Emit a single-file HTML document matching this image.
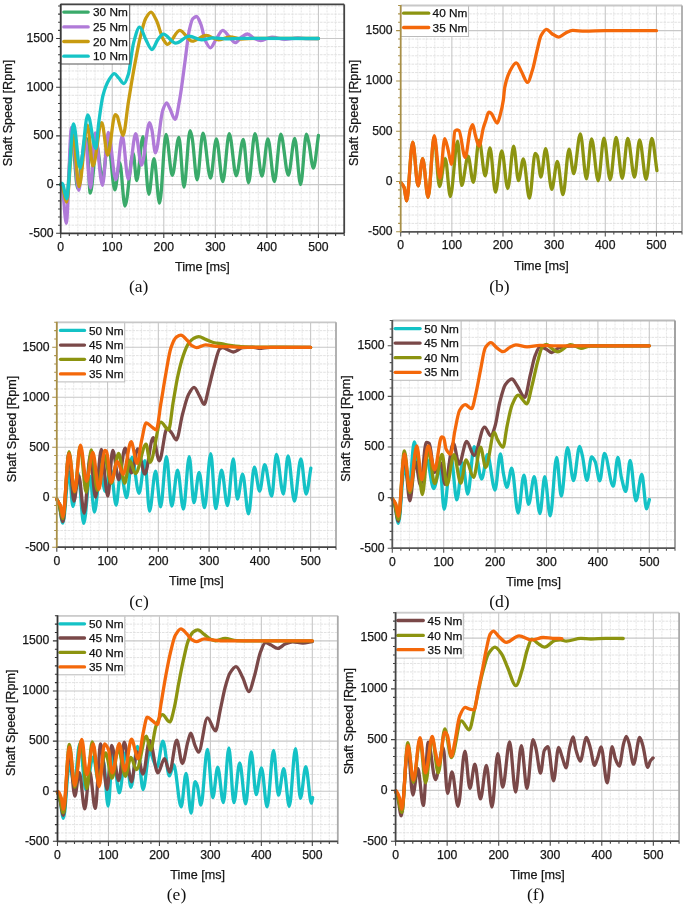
<!DOCTYPE html>
<html><head><meta charset="utf-8"><style>
html,body{margin:0;padding:0;background:#fff;overflow:hidden;width:685px;height:907px;}
svg{display:block;will-change:transform;filter:blur(0.35px);}
.tk{font-family:"Liberation Sans", sans-serif;font-size:12.2px;fill:#161616;stroke:#161616;stroke-width:0.25px;}
.at{font-family:"Liberation Sans", sans-serif;font-size:12.6px;fill:#161616;stroke:#161616;stroke-width:0.25px;}
.lg{font-family:"Liberation Sans", sans-serif;font-size:11.8px;fill:#111;stroke:#111;stroke-width:0.25px;}
.cap{font-family:"Liberation Serif", serif;font-size:17.5px;fill:#111;}
</style></head><body>
<svg width="685" height="907" viewBox="0 0 685 907">
<g id="pa">
<path d="M69.29 4.40V233.30M77.88 4.40V233.30M86.47 4.40V233.30M95.06 4.40V233.30M103.65 4.40V233.30M120.84 4.40V233.30M129.43 4.40V233.30M138.02 4.40V233.30M146.61 4.40V233.30M155.20 4.40V233.30M172.38 4.40V233.30M180.97 4.40V233.30M189.56 4.40V233.30M198.15 4.40V233.30M206.75 4.40V233.30M223.93 4.40V233.30M232.52 4.40V233.30M241.11 4.40V233.30M249.70 4.40V233.30M258.29 4.40V233.30M275.47 4.40V233.30M284.06 4.40V233.30M292.65 4.40V233.30M301.25 4.40V233.30M309.84 4.40V233.30M327.02 4.40V233.30M335.61 4.40V233.30" stroke="#e3e3e3" stroke-width="0.9" stroke-dasharray="2 1" fill="none"/>
<path d="M60.70 225.18H344.20M60.70 217.07H344.20M60.70 208.95H344.20M60.70 200.83H344.20M60.70 192.71H344.20M60.70 176.48H344.20M60.70 168.36H344.20M60.70 160.25H344.20M60.70 152.13H344.20M60.70 144.01H344.20M60.70 127.78H344.20M60.70 119.66H344.20M60.70 111.54H344.20M60.70 103.43H344.20M60.70 95.31H344.20M60.70 79.08H344.20M60.70 70.96H344.20M60.70 62.84H344.20M60.70 54.73H344.20M60.70 46.61H344.20M60.70 30.37H344.20M60.70 22.26H344.20M60.70 14.14H344.20M60.70 6.02H344.20" stroke="#dadada" stroke-width="0.8" stroke-dasharray="2.6 1" fill="none"/>
<path d="M112.25 4.40V233.30M163.79 4.40V233.30M215.34 4.40V233.30M266.88 4.40V233.30M318.43 4.40V233.30M60.70 184.60H344.20M60.70 135.90H344.20M60.70 87.19H344.20M60.70 38.49H344.20" stroke="#c8c8c8" stroke-width="1.1" fill="none"/>
<path d="M60.70 184.60C61.22 184.92 61.73 185.07 62.25 185.57C63.62 186.91 65.00 201.16 66.37 201.16C68.26 201.16 70.15 137.84 72.04 137.84C73.93 137.84 75.82 188.49 77.71 188.49C79.26 188.49 80.80 163.08 82.35 155.38C83.81 148.10 85.27 138.53 86.73 138.53C87.90 138.53 89.07 193.17 90.24 193.17C92.42 193.17 94.60 145.64 96.78 145.64C98.67 145.64 100.56 179.73 102.45 179.73C104.34 179.73 106.23 140.77 108.12 140.77C110.36 140.77 112.59 189.96 114.82 189.96C116.45 189.96 118.09 162.68 119.72 162.68C121.47 162.68 123.22 206.12 124.98 206.12C127.71 206.12 130.44 153.43 133.17 153.43C134.34 153.43 135.51 180.51 136.68 180.51C138.79 180.51 140.90 136.67 143.02 136.67C144.96 136.67 146.90 194.34 148.84 194.34C150.56 194.34 152.28 158.59 154.00 158.59C155.85 158.59 157.71 203.20 159.56 203.20C161.71 203.20 163.86 134.43 166.01 134.43C168.10 134.43 170.20 175.34 172.30 175.34C174.50 175.34 176.69 137.36 178.89 137.36C180.59 137.36 182.30 187.13 184.00 187.13C186.02 187.13 188.05 130.54 190.08 130.54C190.77 130.54 191.45 134.59 192.14 137.84C193.79 145.65 195.44 179.83 197.09 179.83C199.05 179.83 201.01 133.07 202.97 133.07C205.49 133.07 208.02 178.07 210.54 178.07C212.48 178.07 214.43 138.92 216.37 138.92C218.52 138.92 220.66 181.58 222.81 181.58C224.96 181.58 227.11 133.66 229.25 133.66C231.59 133.66 233.93 175.73 236.26 175.73C238.60 175.73 240.94 139.50 243.27 139.50C245.03 139.50 246.78 182.75 248.53 182.75C250.68 182.75 252.83 133.66 254.97 133.66C257.31 133.66 259.65 176.03 261.99 176.03C263.96 176.03 265.94 138.82 267.91 138.82C270.06 138.82 272.21 181.58 274.36 181.58C276.50 181.58 278.65 134.24 280.80 134.24C283.31 134.24 285.82 175.15 288.32 175.15C290.46 175.15 292.59 138.33 294.72 138.33C296.68 138.33 298.63 184.50 300.59 184.50C302.53 184.50 304.48 134.24 306.42 134.24C307.16 134.24 307.89 138.73 308.63 141.74C310.23 148.25 311.83 168.14 313.43 168.14C315.09 168.14 316.76 146.32 318.43 135.41" stroke="#3aaa6a" stroke-width="3.3" fill="none" stroke-linejoin="round" stroke-linecap="round"/>
<path d="M60.70 184.60C61.22 185.57 61.73 186.05 62.25 187.52C63.59 191.33 64.93 223.27 66.27 223.27C68.02 223.27 69.77 127.32 71.52 127.32C73.93 127.32 76.34 190.44 78.74 190.44C80.80 190.44 82.86 137.84 84.93 137.84C86.82 137.84 88.71 188.01 90.60 188.01C92.09 188.01 93.59 132.97 95.08 132.97C97.54 132.97 99.99 185.28 102.45 185.28C104.39 185.28 106.33 132.29 108.28 132.29C110.80 132.29 113.33 179.73 115.85 179.73C118.00 179.73 120.15 135.90 122.30 135.90C124.27 135.90 126.25 179.05 128.22 179.05C130.72 179.05 133.21 133.75 135.70 133.75C137.64 133.75 139.58 165.12 141.52 165.12C144.20 165.12 146.88 122.75 149.56 122.75C150.30 122.75 151.04 126.38 151.78 129.27C153.00 134.05 154.22 152.75 155.44 152.75C157.88 152.75 160.32 117.03 162.76 110.28C164.05 106.71 165.34 102.78 166.63 102.78C167.57 102.78 168.52 105.90 169.46 107.65C171.35 111.14 173.24 119.24 175.13 119.24C176.68 119.24 178.22 107.26 179.77 98.88C181.47 89.67 183.17 74.77 184.87 62.45C186.33 51.88 187.79 36.79 189.25 30.31C190.46 24.97 191.66 19.82 192.86 18.62C194.08 17.41 195.30 16.48 196.52 16.48C197.98 16.48 199.44 20.91 200.90 24.47C202.36 28.02 203.82 37.50 205.29 40.54C206.99 44.08 208.69 47.84 210.39 47.84C212.33 47.84 214.27 41.83 216.21 39.08C218.39 35.98 220.58 30.31 222.76 30.31C224.96 30.31 227.16 34.74 229.36 36.93C231.30 38.86 233.24 42.68 235.18 42.68C237.36 42.68 239.55 38.32 241.73 36.93C243.67 35.70 245.61 34.01 247.55 34.01C249.73 34.01 251.92 37.44 254.10 38.39C256.30 39.36 258.50 40.54 260.70 40.54C264.48 40.54 268.26 37.03 272.04 37.03C276.33 37.03 280.63 39.47 284.92 39.47C289.22 39.47 293.51 38.00 297.81 38.00C301.25 38.00 304.68 38.69 308.12 38.69C311.55 38.69 314.99 38.56 318.43 38.49" stroke="#b07ad8" stroke-width="3.3" fill="none" stroke-linejoin="round" stroke-linecap="round"/>
<path d="M60.70 184.60C61.22 185.25 61.73 185.65 62.25 186.55C63.71 189.07 65.17 202.13 66.63 202.13C68.84 202.13 71.06 135.21 73.28 135.21C75.18 135.21 77.09 186.55 79.00 186.55C81.83 186.55 84.67 125.18 87.50 125.18C89.29 125.18 91.08 165.90 92.86 165.90C95.82 165.90 98.77 122.65 101.73 122.65C103.72 122.65 105.72 155.08 107.71 155.08C110.20 155.08 112.69 114.66 115.18 114.66C115.92 114.66 116.66 115.40 117.40 116.41C117.88 117.08 118.36 120.27 118.84 121.97C120.25 126.95 121.66 135.41 123.07 135.41C124.82 135.41 126.58 113.23 128.33 102.49C130.08 91.74 131.83 80.53 133.59 70.93C135.92 58.12 138.26 45.23 140.60 35.86C142.31 28.97 144.03 21.30 145.75 18.33C147.52 15.27 149.29 12.19 151.06 12.19C152.79 12.19 154.53 16.74 156.27 20.08C158.60 24.58 160.94 35.58 163.28 39.37C164.65 41.60 166.02 44.34 167.40 44.34C171.52 44.34 175.65 30.31 179.77 30.31C183.89 30.31 188.02 41.22 192.14 41.22C196.78 41.22 201.42 35.47 206.06 35.47C210.18 35.47 214.31 39.76 218.43 39.76C222.31 39.76 226.20 36.93 230.08 36.93C233.76 36.93 237.43 38.98 241.11 38.98C246.26 38.98 251.42 38.30 256.57 38.30C277.19 38.30 297.81 38.43 318.43 38.49" stroke="#c89b10" stroke-width="3.3" fill="none" stroke-linejoin="round" stroke-linecap="round"/>
<path d="M60.70 184.60C61.04 184.11 61.39 183.14 61.73 183.14C62.07 183.14 62.42 183.64 62.76 184.11C64.05 185.86 65.34 198.82 66.63 198.82C68.95 198.82 71.27 124.01 73.59 124.01C75.73 124.01 77.88 168.04 80.03 168.04C82.61 168.04 85.18 114.95 87.76 114.95C90.42 114.95 93.09 148.36 95.75 148.36C96.71 148.36 97.68 130.71 98.64 123.53C100.08 112.76 101.52 100.92 102.97 95.47C105.01 87.75 107.06 82.97 109.10 79.69C110.84 76.92 112.57 73.56 114.31 73.56C115.77 73.56 117.23 76.43 118.69 77.94C120.44 79.75 122.19 83.59 123.95 83.59C125.41 83.59 126.87 78.90 128.33 74.43C130.08 69.08 131.83 49.29 133.59 42.87C135.61 35.46 137.64 27.10 139.67 27.10C141.70 27.10 143.72 35.70 145.75 39.37C147.81 43.10 149.87 49.50 151.94 49.50C153.96 49.50 155.99 41.89 158.02 39.37C159.77 37.19 161.52 34.11 163.28 34.11C167.40 34.11 171.52 43.17 175.65 43.17C180.18 43.17 184.72 36.15 189.25 36.15C193.38 36.15 197.50 39.76 201.63 39.76C205.51 39.76 209.39 37.91 213.27 37.91C217.40 37.91 221.52 38.78 225.65 38.78C230.80 38.78 235.95 38.39 241.11 38.39C266.88 38.39 292.65 38.46 318.43 38.49" stroke="#16c4c6" stroke-width="3.3" fill="none" stroke-linejoin="round" stroke-linecap="round"/>
<rect x="60.70" y="4.40" width="69.00" height="59.60" fill="#fff" stroke="#555" stroke-width="1"/>
<path d="M63.80 12.10H88.20" stroke="#3aaa6a" stroke-width="3.3" stroke-linecap="round"/>
<text x="93.00" y="16.20" class="lg">30 Nm</text>
<path d="M63.80 26.90H88.20" stroke="#b07ad8" stroke-width="3.3" stroke-linecap="round"/>
<text x="93.00" y="31.00" class="lg">25 Nm</text>
<path d="M63.80 41.50H88.20" stroke="#c89b10" stroke-width="3.3" stroke-linecap="round"/>
<text x="93.00" y="45.60" class="lg">20 Nm</text>
<path d="M63.80 56.20H88.20" stroke="#16c4c6" stroke-width="3.3" stroke-linecap="round"/>
<text x="93.00" y="60.30" class="lg">10 Nm</text>
<path d="M60.70 4.40H344.20" stroke="#444" stroke-width="1.8"/>
<path d="M344.20 4.40V233.30" stroke="#444" stroke-width="1.8"/>
<path d="M60.70 233.30v4.6M69.29 233.30v2.6M77.88 233.30v2.6M86.47 233.30v2.6M95.06 233.30v2.6M103.65 233.30v2.6M112.25 233.30v4.6M120.84 233.30v2.6M129.43 233.30v2.6M138.02 233.30v2.6M146.61 233.30v2.6M155.20 233.30v2.6M163.79 233.30v4.6M172.38 233.30v2.6M180.97 233.30v2.6M189.56 233.30v2.6M198.15 233.30v2.6M206.75 233.30v2.6M215.34 233.30v4.6M223.93 233.30v2.6M232.52 233.30v2.6M241.11 233.30v2.6M249.70 233.30v2.6M258.29 233.30v2.6M266.88 233.30v4.6M275.47 233.30v2.6M284.06 233.30v2.6M292.65 233.30v2.6M301.25 233.30v2.6M309.84 233.30v2.6M318.43 233.30v4.6M327.02 233.30v2.6M335.61 233.30v2.6M344.20 233.30v2.6" stroke="#3a3a3a" stroke-width="1.1"/>
<path d="M60.70 233.30h-4.6M60.70 225.18h-2.6M60.70 217.07h-2.6M60.70 208.95h-2.6M60.70 200.83h-2.6M60.70 192.71h-2.6M60.70 184.60h-4.6M60.70 176.48h-2.6M60.70 168.36h-2.6M60.70 160.25h-2.6M60.70 152.13h-2.6M60.70 144.01h-2.6M60.70 135.90h-4.6M60.70 127.78h-2.6M60.70 119.66h-2.6M60.70 111.54h-2.6M60.70 103.43h-2.6M60.70 95.31h-2.6M60.70 87.19h-4.6M60.70 79.08h-2.6M60.70 70.96h-2.6M60.70 62.84h-2.6M60.70 54.73h-2.6M60.70 46.61h-2.6M60.70 38.49h-4.6M60.70 30.37h-2.6M60.70 22.26h-2.6M60.70 14.14h-2.6M60.70 6.02h-2.6" stroke="#3a3a3a" stroke-width="1.1"/>
<path d="M60.20 233.30H344.20" stroke="#3a3a3a" stroke-width="1.8"/>
<path d="M60.70 3.90V233.80" stroke="#3a3a3a" stroke-width="1.8"/>
<text x="60.70" y="250.80" text-anchor="middle" class="tk">0</text>
<text x="112.25" y="250.80" text-anchor="middle" class="tk">100</text>
<text x="163.79" y="250.80" text-anchor="middle" class="tk">200</text>
<text x="215.34" y="250.80" text-anchor="middle" class="tk">300</text>
<text x="266.88" y="250.80" text-anchor="middle" class="tk">400</text>
<text x="318.43" y="250.80" text-anchor="middle" class="tk">500</text>
<text x="53.50" y="236.70" text-anchor="end" class="tk">-500</text>
<text x="53.50" y="188.00" text-anchor="end" class="tk">0</text>
<text x="53.50" y="139.30" text-anchor="end" class="tk">500</text>
<text x="53.50" y="90.59" text-anchor="end" class="tk">1000</text>
<text x="53.50" y="41.89" text-anchor="end" class="tk">1500</text>
<text x="202.45" y="271.30" text-anchor="middle" class="at">Time [ms]</text>
<text transform="translate(12.10 113.05) rotate(-90)" text-anchor="middle" class="at">Shaft Speed [Rpm]</text>
<text x="138.70" y="291.90" text-anchor="middle" class="cap">(a)</text>
</g>
<g id="pb">
<path d="M409.22 5.50V231.80M417.75 5.50V231.80M426.27 5.50V231.80M434.80 5.50V231.80M443.32 5.50V231.80M460.37 5.50V231.80M468.89 5.50V231.80M477.42 5.50V231.80M485.94 5.50V231.80M494.47 5.50V231.80M511.52 5.50V231.80M520.04 5.50V231.80M528.56 5.50V231.80M537.09 5.50V231.80M545.61 5.50V231.80M562.66 5.50V231.80M571.18 5.50V231.80M579.71 5.50V231.80M588.23 5.50V231.80M596.76 5.50V231.80M613.81 5.50V231.80M622.33 5.50V231.80M630.85 5.50V231.80M639.38 5.50V231.80M647.90 5.50V231.80M664.95 5.50V231.80M673.48 5.50V231.80" stroke="#e3e3e3" stroke-width="0.9" stroke-dasharray="2 1" fill="none"/>
<path d="M400.70 223.42H682.00M400.70 215.04H682.00M400.70 206.66H682.00M400.70 198.27H682.00M400.70 189.89H682.00M400.70 173.13H682.00M400.70 164.75H682.00M400.70 156.37H682.00M400.70 147.99H682.00M400.70 139.60H682.00M400.70 122.84H682.00M400.70 114.46H682.00M400.70 106.08H682.00M400.70 97.70H682.00M400.70 89.31H682.00M400.70 72.55H682.00M400.70 64.17H682.00M400.70 55.79H682.00M400.70 47.41H682.00M400.70 39.03H682.00M400.70 22.26H682.00M400.70 13.88H682.00" stroke="#dadada" stroke-width="0.8" stroke-dasharray="2.6 1" fill="none"/>
<path d="M451.85 5.50V231.80M502.99 5.50V231.80M554.14 5.50V231.80M605.28 5.50V231.80M656.43 5.50V231.80M400.70 181.51H682.00M400.70 131.22H682.00M400.70 80.93H682.00M400.70 30.64H682.00" stroke="#c8c8c8" stroke-width="1.1" fill="none"/>
<path d="M400.70 182.52C401.83 184.13 402.95 184.72 404.08 187.34C404.91 189.29 405.75 200.92 406.58 200.92C408.63 200.92 410.67 142.19 412.72 142.19C414.51 142.19 416.30 185.94 418.09 185.94C419.62 185.94 421.16 158.58 422.69 158.58C424.50 158.58 426.31 197.30 428.11 197.30C430.14 197.30 432.17 137.26 434.20 137.26C435.96 137.26 437.71 186.54 439.47 186.54C441.41 186.54 443.36 158.58 445.30 158.58C446.97 158.58 448.64 196.50 450.31 196.50C452.73 196.50 455.15 141.08 457.57 141.08C458.94 141.08 460.30 185.43 461.67 185.43C463.80 185.43 465.93 156.27 468.06 156.27C469.81 156.27 471.57 182.32 473.33 182.32C475.25 182.32 477.18 140.07 479.11 140.07C481.13 140.07 483.16 175.78 485.19 175.78C486.79 175.78 488.40 147.92 490.00 147.92C491.82 147.92 493.65 192.17 495.47 192.17C497.57 192.17 499.67 150.94 501.76 150.94C503.78 150.94 505.79 188.55 507.80 188.55C509.74 188.55 511.69 146.11 513.63 146.11C515.25 146.11 516.87 180.71 518.49 180.71C520.11 180.71 521.73 158.78 523.35 158.78C525.38 158.78 527.40 198.21 529.43 198.21C531.36 198.21 533.29 153.35 535.21 153.35C535.89 153.35 536.58 154.56 537.26 155.86C538.49 158.20 539.71 176.99 540.94 176.99C542.53 176.99 544.11 148.62 545.70 148.62C547.71 148.62 549.72 189.46 551.73 189.46C553.61 189.46 555.48 161.40 557.36 161.40C559.23 161.40 561.11 194.59 562.98 194.59C565.01 194.59 567.04 149.13 569.07 149.13C570.62 149.13 572.17 173.67 573.73 173.67C575.92 173.67 578.12 133.84 580.32 133.84C582.37 133.84 584.41 178.80 586.46 178.80C588.17 178.80 589.87 138.87 591.57 138.87C593.79 138.87 596.01 180.81 598.22 180.81C600.13 180.81 602.04 138.06 603.95 138.06C606.03 138.06 608.11 179.80 610.19 179.80C612.17 179.80 614.15 137.36 616.12 137.36C618.17 137.36 620.22 178.29 622.26 178.29C624.09 178.29 625.91 138.36 627.73 138.36C630.00 138.36 632.27 177.19 634.54 177.19C636.22 177.19 637.91 139.97 639.60 139.97C641.78 139.97 643.96 179.30 646.15 179.30C648.04 179.30 649.93 138.36 651.82 138.36C653.53 138.36 655.23 159.89 656.94 170.65" stroke="#8c9410" stroke-width="3.3" fill="none" stroke-linejoin="round" stroke-linecap="round"/>
<path d="M400.70 182.52C401.83 184.13 402.95 184.72 404.08 187.34C404.91 189.29 405.75 200.92 406.58 200.92C408.63 200.92 410.67 142.19 412.72 142.19C414.51 142.19 416.30 185.94 418.09 185.94C419.62 185.94 421.16 158.58 422.69 158.58C424.50 158.58 426.31 197.30 428.11 197.30C430.14 197.30 432.17 135.75 434.20 135.75C436.14 135.75 438.09 178.39 440.03 178.39C441.58 178.39 443.13 138.66 444.69 138.66C445.86 138.66 447.04 145.93 448.21 150.33C449.31 154.42 450.40 164.41 451.49 164.41C452.63 164.41 453.77 132.50 454.91 131.22C455.60 130.46 456.28 129.91 456.96 129.91C457.64 129.91 458.32 130.29 459.01 130.72C461.05 132.01 463.10 157.37 465.14 157.37C466.90 157.37 468.66 134.33 470.41 129.41C471.18 127.26 471.95 124.68 472.71 124.68C473.60 124.68 474.49 132.24 475.37 135.25C476.62 139.46 477.86 146.11 479.11 146.11C480.52 146.11 481.94 132.83 483.35 127.90C484.15 125.11 484.95 123.00 485.75 120.66C486.76 117.72 487.77 112.11 488.77 112.11C489.57 112.11 490.38 112.75 491.18 113.32C493.21 114.76 495.23 123.08 497.26 123.08C498.27 123.08 499.27 118.17 500.28 114.63C501.30 111.03 502.33 106.74 503.35 100.04C503.79 97.14 504.24 90.12 504.68 87.77C506.30 79.21 507.92 75.14 509.54 71.98C511.77 67.62 514.00 62.93 516.24 62.93C518.04 62.93 519.85 68.87 521.66 71.98C523.60 75.33 525.55 82.34 527.49 82.34C529.19 82.34 530.90 74.99 532.60 69.57C534.02 65.06 535.43 57.00 536.85 51.36C538.26 45.73 539.68 38.11 541.09 35.57C542.90 32.33 544.71 29.34 546.52 29.34C548.34 29.34 550.16 32.63 551.99 33.76C554.20 35.14 556.42 37.08 558.64 37.08C560.87 37.08 563.10 34.18 565.34 33.16C567.76 32.05 570.18 30.44 572.60 30.44C576.67 30.44 580.75 31.15 584.82 31.15C591.64 31.15 598.46 30.64 605.28 30.64C622.33 30.64 639.38 30.64 656.43 30.64" stroke="#f4680a" stroke-width="3.3" fill="none" stroke-linejoin="round" stroke-linecap="round"/>
<rect x="400.70" y="5.50" width="67.80" height="31.00" fill="#fff" stroke="#bbb" stroke-width="1"/>
<path d="M403.60 13.20H428.70" stroke="#8c9410" stroke-width="3.3" stroke-linecap="round"/>
<text x="432.60" y="17.30" class="lg">40 Nm</text>
<path d="M403.60 27.50H428.70" stroke="#f4680a" stroke-width="3.3" stroke-linecap="round"/>
<text x="432.60" y="31.60" class="lg">35 Nm</text>
<path d="M400.70 5.50H682.00" stroke="#c8c8c8" stroke-width="1.8"/>
<path d="M682.00 5.50V231.80" stroke="#aaa" stroke-width="1.8"/>
<path d="M400.70 231.80v4.6M409.22 231.80v2.6M417.75 231.80v2.6M426.27 231.80v2.6M434.80 231.80v2.6M443.32 231.80v2.6M451.85 231.80v4.6M460.37 231.80v2.6M468.89 231.80v2.6M477.42 231.80v2.6M485.94 231.80v2.6M494.47 231.80v2.6M502.99 231.80v4.6M511.52 231.80v2.6M520.04 231.80v2.6M528.56 231.80v2.6M537.09 231.80v2.6M545.61 231.80v2.6M554.14 231.80v4.6M562.66 231.80v2.6M571.18 231.80v2.6M579.71 231.80v2.6M588.23 231.80v2.6M596.76 231.80v2.6M605.28 231.80v4.6M613.81 231.80v2.6M622.33 231.80v2.6M630.85 231.80v2.6M639.38 231.80v2.6M647.90 231.80v2.6M656.43 231.80v4.6M664.95 231.80v2.6M673.48 231.80v2.6M682.00 231.80v2.6" stroke="#555" stroke-width="1.1"/>
<path d="M400.70 231.80h-4.6M400.70 223.42h-2.6M400.70 215.04h-2.6M400.70 206.66h-2.6M400.70 198.27h-2.6M400.70 189.89h-2.6M400.70 181.51h-4.6M400.70 173.13h-2.6M400.70 164.75h-2.6M400.70 156.37h-2.6M400.70 147.99h-2.6M400.70 139.60h-2.6M400.70 131.22h-4.6M400.70 122.84h-2.6M400.70 114.46h-2.6M400.70 106.08h-2.6M400.70 97.70h-2.6M400.70 89.31h-2.6M400.70 80.93h-4.6M400.70 72.55h-2.6M400.70 64.17h-2.6M400.70 55.79h-2.6M400.70 47.41h-2.6M400.70 39.03h-2.6M400.70 30.64h-4.6M400.70 22.26h-2.6M400.70 13.88h-2.6M400.70 5.50h-2.6" stroke="#a89048" stroke-width="1.1"/>
<path d="M400.20 231.80H682.00" stroke="#555" stroke-width="1.8"/>
<path d="M400.70 5.00V232.30" stroke="#a89048" stroke-width="1.8"/>
<text x="400.70" y="249.30" text-anchor="middle" class="tk">0</text>
<text x="451.85" y="249.30" text-anchor="middle" class="tk">100</text>
<text x="502.99" y="249.30" text-anchor="middle" class="tk">200</text>
<text x="554.14" y="249.30" text-anchor="middle" class="tk">300</text>
<text x="605.28" y="249.30" text-anchor="middle" class="tk">400</text>
<text x="656.43" y="249.30" text-anchor="middle" class="tk">500</text>
<text x="392.50" y="235.20" text-anchor="end" class="tk">-500</text>
<text x="392.50" y="184.91" text-anchor="end" class="tk">0</text>
<text x="392.50" y="134.62" text-anchor="end" class="tk">500</text>
<text x="392.50" y="84.33" text-anchor="end" class="tk">1000</text>
<text x="392.50" y="34.04" text-anchor="end" class="tk">1500</text>
<text x="541.35" y="269.80" text-anchor="middle" class="at">Time [ms]</text>
<text transform="translate(358.00 112.85) rotate(-90)" text-anchor="middle" class="at">Shaft Speed [Rpm]</text>
<text x="499.50" y="291.70" text-anchor="middle" class="cap">(b)</text>
</g>
<g id="pc">
<path d="M65.26 322.30V547.20M73.72 322.30V547.20M82.18 322.30V547.20M90.64 322.30V547.20M99.10 322.30V547.20M116.02 322.30V547.20M124.48 322.30V547.20M132.95 322.30V547.20M141.41 322.30V547.20M149.87 322.30V547.20M166.79 322.30V547.20M175.25 322.30V547.20M183.71 322.30V547.20M192.17 322.30V547.20M200.63 322.30V547.20M217.55 322.30V547.20M226.01 322.30V547.20M234.47 322.30V547.20M242.93 322.30V547.20M251.39 322.30V547.20M268.32 322.30V547.20M276.78 322.30V547.20M285.24 322.30V547.20M293.70 322.30V547.20M302.16 322.30V547.20M319.08 322.30V547.20M327.54 322.30V547.20" stroke="#e3e3e3" stroke-width="0.9" stroke-dasharray="2 1" fill="none"/>
<path d="M56.80 538.87H336.00M56.80 530.54H336.00M56.80 522.21H336.00M56.80 513.88H336.00M56.80 505.55H336.00M56.80 488.89H336.00M56.80 480.56H336.00M56.80 472.23H336.00M56.80 463.90H336.00M56.80 455.57H336.00M56.80 438.91H336.00M56.80 430.59H336.00M56.80 422.26H336.00M56.80 413.93H336.00M56.80 405.60H336.00M56.80 388.94H336.00M56.80 380.61H336.00M56.80 372.28H336.00M56.80 363.95H336.00M56.80 355.62H336.00M56.80 338.96H336.00M56.80 330.63H336.00" stroke="#dadada" stroke-width="0.8" stroke-dasharray="2.6 1" fill="none"/>
<path d="M107.56 322.30V547.20M158.33 322.30V547.20M209.09 322.30V547.20M259.85 322.30V547.20M310.62 322.30V547.20M56.80 497.22H336.00M56.80 447.24H336.00M56.80 397.27H336.00M56.80 347.29H336.00" stroke="#c8c8c8" stroke-width="1.1" fill="none"/>
<path d="M56.80 499.22C57.48 500.55 58.15 501.40 58.83 503.22C60.17 506.82 61.50 523.21 62.84 523.21C64.89 523.21 66.94 471.93 68.98 471.93C70.30 471.93 71.62 506.42 72.94 506.42C74.67 506.42 76.39 473.23 78.12 473.23C79.98 473.23 81.84 523.41 83.70 523.41C85.79 523.41 87.87 476.23 89.95 476.23C91.44 476.23 92.93 512.02 94.42 512.02C96.40 512.02 98.38 472.33 100.36 472.33C102.01 472.33 103.67 491.22 105.33 491.22C107.09 491.22 108.85 469.23 110.61 469.23C112.45 469.23 114.30 505.12 116.14 505.12C117.63 505.12 119.12 472.33 120.61 472.33C122.62 472.33 124.64 497.52 126.65 497.52C128.44 497.52 130.24 457.14 132.03 457.14C134.37 457.14 136.70 493.42 139.04 493.42C140.98 493.42 142.93 460.64 144.87 460.64C146.43 460.64 147.99 511.02 149.55 511.02C151.56 511.02 153.57 471.13 155.59 471.13C157.26 471.13 158.94 506.92 160.61 506.92C162.56 506.92 164.50 456.54 166.45 456.54C168.21 456.54 169.97 506.22 171.73 506.22C173.67 506.22 175.62 470.03 177.57 470.03C179.51 470.03 181.46 509.22 183.40 509.22C185.35 509.22 187.30 456.54 189.24 456.54C190.80 456.54 192.36 502.72 193.91 502.72C195.66 502.72 197.40 472.33 199.14 472.33C200.93 472.33 202.73 507.72 204.52 507.72C206.60 507.72 208.68 453.64 210.77 453.64C212.42 453.64 214.08 508.62 215.74 508.62C217.69 508.62 219.63 470.03 221.58 470.03C223.54 470.03 225.50 505.72 227.47 505.72C229.41 505.72 231.36 458.84 233.31 458.84C234.66 458.84 236.01 499.22 237.37 499.22C239.13 499.22 240.89 474.13 242.65 474.13C244.59 474.13 246.54 513.91 248.48 513.91C250.43 513.91 252.38 467.14 254.32 467.14C256.10 467.14 257.87 491.12 259.65 491.12C261.34 491.12 263.04 464.74 264.73 464.74C267.06 464.74 269.40 496.02 271.73 496.02C273.29 496.02 274.85 454.44 276.40 454.44C278.72 454.44 281.04 494.02 283.36 494.02C284.91 494.02 286.47 455.94 288.03 455.94C290.16 455.94 292.29 501.02 294.42 501.02C296.57 501.02 298.72 458.84 300.87 458.84C302.63 458.84 304.39 494.02 306.15 494.02C307.71 494.02 309.26 476.83 310.82 468.24" stroke="#14c2c6" stroke-width="3.3" fill="none" stroke-linejoin="round" stroke-linecap="round"/>
<path d="M56.80 499.22C57.48 500.55 58.15 501.44 58.83 503.22C60.18 506.77 61.54 521.51 62.89 521.51C64.92 521.51 66.95 453.24 68.98 453.24C70.61 453.24 72.23 501.12 73.86 501.12C75.46 501.12 77.07 475.53 78.68 475.53C80.52 475.53 82.37 513.22 84.21 513.22C86.24 513.22 88.27 455.24 90.30 455.24C92.01 455.24 93.72 497.22 95.43 497.22C97.41 497.22 99.39 449.44 101.37 449.44C103.52 449.44 105.67 496.22 107.82 496.22C109.46 496.22 111.10 450.44 112.74 450.44C114.74 450.44 116.73 479.73 118.73 479.73C120.85 479.73 122.96 448.24 125.08 448.24C127.19 448.24 129.31 472.93 131.42 472.93C133.55 472.93 135.69 448.94 137.82 448.94C140.17 448.94 142.52 474.13 144.87 474.13C147.63 474.13 150.39 437.55 153.15 437.55C155.21 437.55 157.28 460.84 159.34 460.84C161.91 460.84 164.49 428.35 167.06 428.35C168.60 428.35 170.14 431.10 171.68 432.95C173.22 434.80 174.76 439.95 176.30 439.95C178.36 439.95 180.43 421.90 182.49 414.36C184.54 406.88 186.59 397.98 188.63 394.27C190.44 390.99 192.25 387.37 194.06 387.37C195.86 387.37 197.65 392.81 199.45 395.87C200.99 398.49 202.53 404.36 204.07 404.36C205.62 404.36 207.18 393.87 208.74 388.07C210.53 381.39 212.32 372.81 214.12 366.48C215.99 359.86 217.87 350.01 219.75 348.79C220.77 348.13 221.78 347.59 222.80 347.59C224.15 347.59 225.50 348.72 226.86 349.29C228.99 350.18 231.12 351.99 233.25 351.99C236.42 351.99 239.58 347.89 242.75 347.59C245.91 347.29 249.08 347.09 252.24 347.09C254.44 347.09 256.64 348.29 258.84 348.29C262.56 348.29 266.28 347.29 270.01 347.29C283.54 347.29 297.08 347.29 310.62 347.29" stroke="#7a4848" stroke-width="3.3" fill="none" stroke-linejoin="round" stroke-linecap="round"/>
<path d="M56.80 499.22C57.48 500.55 58.15 501.52 58.83 503.22C60.18 506.62 61.54 518.71 62.89 518.71C64.92 518.71 66.95 451.64 68.98 451.64C70.84 451.64 72.71 492.22 74.57 492.22C76.43 492.22 78.29 446.24 80.15 446.24C82.16 446.24 84.18 492.32 86.19 492.32C87.88 492.32 89.58 449.84 91.27 449.84C93.32 449.84 95.36 490.23 97.41 490.23C99.71 490.23 102.01 455.24 104.31 455.24C106.58 455.24 108.85 483.23 111.12 483.23C113.66 483.23 116.19 453.44 118.73 453.44C120.71 453.44 122.69 483.23 124.67 483.23C126.35 483.23 128.02 460.64 129.70 460.64C131.63 460.64 133.55 473.53 135.48 473.53C139.00 473.53 142.52 444.25 146.04 444.25C147.38 444.25 148.72 462.34 150.05 462.34C153.66 462.34 157.26 422.16 160.87 422.16C163.44 422.16 166.01 429.85 168.58 429.85C170.12 429.85 171.66 411.02 173.20 402.06C174.76 393.01 176.31 382.82 177.87 375.78C179.66 367.66 181.46 360.68 183.25 355.59C185.05 350.49 186.84 345.77 188.63 343.29C190.19 341.14 191.75 339.42 193.30 338.59C195.10 337.64 196.89 336.69 198.68 336.69C201.00 336.69 203.32 338.48 205.64 339.39C208.21 340.41 210.78 341.89 213.36 342.49C216.43 343.21 219.51 343.47 222.59 343.99C225.06 344.41 227.54 344.93 230.01 345.29C233.19 345.76 236.37 346.23 239.55 346.49C242.93 346.76 246.32 347.06 249.70 347.09C270.01 347.25 290.31 347.22 310.62 347.29" stroke="#8c9410" stroke-width="3.3" fill="none" stroke-linejoin="round" stroke-linecap="round"/>
<path d="M56.80 499.22C57.04 499.85 57.27 500.65 57.51 501.12C58.54 503.17 59.58 503.15 60.61 505.52C61.35 507.23 62.10 517.01 62.84 517.01C64.89 517.01 66.94 453.44 68.98 453.44C70.90 453.44 72.81 491.42 74.72 491.42C76.63 491.42 78.54 445.25 80.46 445.25C82.47 445.25 84.48 481.23 86.50 481.23C88.61 481.23 90.73 452.44 92.84 452.44C94.86 452.44 96.87 489.23 98.88 489.23C100.86 489.23 102.84 450.44 104.82 450.44C105.40 450.44 105.97 450.80 106.55 451.24C108.12 452.44 109.70 482.23 111.27 482.23C113.25 482.23 115.23 461.34 117.21 461.34C119.21 461.34 121.20 474.23 123.20 474.23C125.86 474.23 128.51 441.75 131.17 441.75C133.11 441.75 135.06 463.24 137.01 463.24C138.53 463.24 140.05 447.35 141.58 440.75C143.12 434.07 144.65 422.86 146.19 422.86C148.01 422.86 149.82 425.50 151.63 426.75C153.17 427.82 154.71 429.85 156.25 429.85C157.79 429.85 159.33 412.57 160.87 403.56C162.41 394.56 163.95 384.33 165.48 375.78C167.30 365.72 169.11 353.11 170.92 347.89C172.71 342.72 174.50 338.30 176.30 337.09C177.84 336.06 179.38 335.19 180.92 335.19C182.98 335.19 185.05 338.20 187.11 340.19C188.65 341.68 190.19 344.62 191.73 345.59C193.29 346.57 194.84 347.59 196.40 347.59C199.48 347.59 202.56 344.79 205.64 344.79C209.24 344.79 212.85 346.10 216.45 346.29C220.56 346.51 224.68 346.52 228.79 346.69C232.37 346.84 235.96 347.29 239.55 347.29C263.24 347.29 286.93 347.29 310.62 347.29" stroke="#f4680a" stroke-width="3.3" fill="none" stroke-linejoin="round" stroke-linecap="round"/>
<rect x="56.80" y="322.30" width="67.90" height="59.60" fill="#fff" stroke="#bbb" stroke-width="1"/>
<path d="M60.50 330.40H84.50" stroke="#14c2c6" stroke-width="3.3" stroke-linecap="round"/>
<text x="88.90" y="334.50" class="lg">50 Nm</text>
<path d="M60.50 345.10H84.50" stroke="#7a4848" stroke-width="3.3" stroke-linecap="round"/>
<text x="88.90" y="349.20" class="lg">45 Nm</text>
<path d="M60.50 359.30H84.50" stroke="#8c9410" stroke-width="3.3" stroke-linecap="round"/>
<text x="88.90" y="363.40" class="lg">40 Nm</text>
<path d="M60.50 373.90H84.50" stroke="#f4680a" stroke-width="3.3" stroke-linecap="round"/>
<text x="88.90" y="378.00" class="lg">35 Nm</text>
<path d="M56.80 322.30H336.00" stroke="#c8c8c8" stroke-width="1.8"/>
<path d="M336.00 322.30V547.20" stroke="#aaa" stroke-width="1.8"/>
<path d="M56.80 547.20v4.6M65.26 547.20v2.6M73.72 547.20v2.6M82.18 547.20v2.6M90.64 547.20v2.6M99.10 547.20v2.6M107.56 547.20v4.6M116.02 547.20v2.6M124.48 547.20v2.6M132.95 547.20v2.6M141.41 547.20v2.6M149.87 547.20v2.6M158.33 547.20v4.6M166.79 547.20v2.6M175.25 547.20v2.6M183.71 547.20v2.6M192.17 547.20v2.6M200.63 547.20v2.6M209.09 547.20v4.6M217.55 547.20v2.6M226.01 547.20v2.6M234.47 547.20v2.6M242.93 547.20v2.6M251.39 547.20v2.6M259.85 547.20v4.6M268.32 547.20v2.6M276.78 547.20v2.6M285.24 547.20v2.6M293.70 547.20v2.6M302.16 547.20v2.6M310.62 547.20v4.6M319.08 547.20v2.6M327.54 547.20v2.6M336.00 547.20v2.6" stroke="#444" stroke-width="1.1"/>
<path d="M56.80 547.20h-4.6M56.80 538.87h-2.6M56.80 530.54h-2.6M56.80 522.21h-2.6M56.80 513.88h-2.6M56.80 505.55h-2.6M56.80 497.22h-4.6M56.80 488.89h-2.6M56.80 480.56h-2.6M56.80 472.23h-2.6M56.80 463.90h-2.6M56.80 455.57h-2.6M56.80 447.24h-4.6M56.80 438.91h-2.6M56.80 430.59h-2.6M56.80 422.26h-2.6M56.80 413.93h-2.6M56.80 405.60h-2.6M56.80 397.27h-4.6M56.80 388.94h-2.6M56.80 380.61h-2.6M56.80 372.28h-2.6M56.80 363.95h-2.6M56.80 355.62h-2.6M56.80 347.29h-4.6M56.80 338.96h-2.6M56.80 330.63h-2.6M56.80 322.30h-2.6" stroke="#a89048" stroke-width="1.1"/>
<path d="M56.30 547.20H336.00" stroke="#444" stroke-width="1.8"/>
<path d="M56.80 321.80V547.70" stroke="#a89048" stroke-width="1.8"/>
<text x="56.80" y="564.70" text-anchor="middle" class="tk">0</text>
<text x="107.56" y="564.70" text-anchor="middle" class="tk">100</text>
<text x="158.33" y="564.70" text-anchor="middle" class="tk">200</text>
<text x="209.09" y="564.70" text-anchor="middle" class="tk">300</text>
<text x="259.85" y="564.70" text-anchor="middle" class="tk">400</text>
<text x="310.62" y="564.70" text-anchor="middle" class="tk">500</text>
<text x="49.60" y="550.60" text-anchor="end" class="tk">-500</text>
<text x="49.60" y="500.62" text-anchor="end" class="tk">0</text>
<text x="49.60" y="450.64" text-anchor="end" class="tk">500</text>
<text x="49.60" y="400.67" text-anchor="end" class="tk">1000</text>
<text x="49.60" y="350.69" text-anchor="end" class="tk">1500</text>
<text x="196.40" y="585.20" text-anchor="middle" class="at">Time [ms]</text>
<text transform="translate(15.80 428.95) rotate(-90)" text-anchor="middle" class="at">Shaft Speed [Rpm]</text>
<text x="139.00" y="606.70" text-anchor="middle" class="cap">(c)</text>
</g>
<g id="pd">
<path d="M400.87 320.50V548.20M409.43 320.50V548.20M418.00 320.50V548.20M426.57 320.50V548.20M435.13 320.50V548.20M452.27 320.50V548.20M460.83 320.50V548.20M469.40 320.50V548.20M477.97 320.50V548.20M486.53 320.50V548.20M503.67 320.50V548.20M512.23 320.50V548.20M520.80 320.50V548.20M529.37 320.50V548.20M537.93 320.50V548.20M555.07 320.50V548.20M563.63 320.50V548.20M572.20 320.50V548.20M580.77 320.50V548.20M589.33 320.50V548.20M606.47 320.50V548.20M615.03 320.50V548.20M623.60 320.50V548.20M632.17 320.50V548.20M640.73 320.50V548.20M657.87 320.50V548.20M666.43 320.50V548.20" stroke="#e3e3e3" stroke-width="0.9" stroke-dasharray="2 1" fill="none"/>
<path d="M392.30 539.77H675.00M392.30 531.33H675.00M392.30 522.90H675.00M392.30 514.47H675.00M392.30 506.03H675.00M392.30 489.17H675.00M392.30 480.73H675.00M392.30 472.30H675.00M392.30 463.87H675.00M392.30 455.43H675.00M392.30 438.57H675.00M392.30 430.13H675.00M392.30 421.70H675.00M392.30 413.27H675.00M392.30 404.83H675.00M392.30 387.97H675.00M392.30 379.53H675.00M392.30 371.10H675.00M392.30 362.67H675.00M392.30 354.23H675.00M392.30 337.37H675.00M392.30 328.93H675.00" stroke="#dadada" stroke-width="0.8" stroke-dasharray="2.6 1" fill="none"/>
<path d="M443.70 320.50V548.20M495.10 320.50V548.20M546.50 320.50V548.20M597.90 320.50V548.20M649.30 320.50V548.20M392.30 497.60H675.00M392.30 447.00H675.00M392.30 396.40H675.00M392.30 345.80H675.00" stroke="#c8c8c8" stroke-width="1.1" fill="none"/>
<path d="M392.30 498.61C392.99 499.96 393.67 500.80 394.36 502.66C395.71 506.33 397.06 523.30 398.42 523.30C400.40 523.30 402.39 467.75 404.38 467.75C406.01 467.75 407.63 485.46 409.26 485.46C410.94 485.46 412.62 441.94 414.30 441.94C416.39 441.94 418.48 479.38 420.57 479.38C422.63 479.38 424.68 459.14 426.74 459.14C429.05 459.14 431.36 488.59 433.68 488.59C435.82 488.59 437.96 467.75 440.10 467.75C441.44 467.75 442.77 509.44 444.11 509.44C446.41 509.44 448.70 457.02 451.00 457.02C452.93 457.02 454.87 499.93 456.81 499.93C458.73 499.93 460.64 462.79 462.56 462.79C464.31 462.79 466.06 494.06 467.81 494.06C469.91 494.06 472.02 446.60 474.13 446.60C476.65 446.60 479.17 479.08 481.68 479.08C483.60 479.08 485.52 454.69 487.44 454.69C489.96 454.69 492.48 490.01 495.00 490.01C496.80 490.01 498.60 453.78 500.39 453.78C501.42 453.78 502.45 468.86 503.48 473.82C504.66 479.52 505.84 487.28 507.02 487.28C508.58 487.28 510.14 468.05 511.70 468.05C513.84 468.05 515.99 512.98 518.13 512.98C520.06 512.98 522.00 475.03 523.94 475.03C525.49 475.03 527.05 504.28 528.61 504.28C530.48 504.28 532.35 476.75 534.22 476.75C536.12 476.75 538.02 513.59 539.92 513.59C541.53 513.59 543.14 476.75 544.75 476.75C546.57 476.75 548.38 515.92 550.20 515.92C552.34 515.92 554.48 457.52 556.63 457.52C558.18 457.52 559.74 496.08 561.30 496.08C563.38 496.08 565.45 447.61 567.52 447.61C569.53 447.61 571.53 480.60 573.54 480.60C575.56 480.60 577.58 446.39 579.60 446.39C580.49 446.39 581.38 451.64 582.27 455.20C583.83 461.43 585.39 480.29 586.95 480.29C588.51 480.29 590.07 456.92 591.63 456.92C592.79 456.92 593.96 459.28 595.12 461.57C596.68 464.64 598.24 480.90 599.80 480.90C601.34 480.90 602.89 453.48 604.43 453.48C607.36 453.48 610.29 486.16 613.22 486.16C614.78 486.16 616.34 457.52 617.89 457.52C619.06 457.52 620.22 472.56 621.39 477.36C622.86 483.44 624.34 491.43 625.81 491.43C627.25 491.43 628.69 460.46 630.13 460.46C632.08 460.46 634.03 500.74 635.99 500.74C637.94 500.74 639.89 474.43 641.85 474.43C643.41 474.43 644.97 508.93 646.52 508.93C647.48 508.93 648.44 502.66 649.40 499.52" stroke="#14c2c6" stroke-width="3.3" fill="none" stroke-linejoin="round" stroke-linecap="round"/>
<path d="M392.30 498.61C392.99 499.96 393.67 500.85 394.36 502.66C395.71 506.23 397.06 521.28 398.42 521.28C400.40 521.28 402.39 455.10 404.38 455.10C406.20 455.10 408.01 500.94 409.83 500.94C411.66 500.94 413.49 461.78 415.33 461.78C417.07 461.78 418.82 485.46 420.57 485.46C422.45 485.46 424.34 442.45 426.22 442.45C427.25 442.45 428.28 442.86 429.31 443.46C431.02 444.45 432.73 472.30 434.45 472.30C436.50 472.30 438.56 462.79 440.62 462.79C442.11 462.79 443.60 484.44 445.09 484.44C447.83 484.44 450.57 443.15 453.31 443.15C455.25 443.15 457.18 464.00 459.12 464.00C461.62 464.00 464.12 441.43 466.62 441.43C469.11 441.43 471.59 455.30 474.08 455.30C477.56 455.30 481.03 427.16 484.51 427.16C486.65 427.16 488.79 435.97 490.94 435.97C492.29 435.97 493.64 430.67 495.00 426.36C496.59 421.27 498.18 408.47 499.78 402.27C501.66 394.94 503.55 387.15 505.43 384.56C507.57 381.62 509.71 378.99 511.86 378.99C513.72 378.99 515.59 383.57 517.46 386.18C519.87 389.56 522.29 397.41 524.71 397.41C526.57 397.41 528.44 382.41 530.31 374.95C531.92 368.51 533.53 359.77 535.14 355.72C536.73 351.71 538.33 346.91 539.92 346.91C542.06 346.91 544.20 348.25 546.35 349.24C548.13 350.06 549.91 352.58 551.69 352.58C554.19 352.58 556.69 348.26 559.20 347.62C562.54 346.77 565.88 346.24 569.22 346.10C573.64 345.92 578.06 345.80 582.48 345.80C604.75 345.80 627.03 345.80 649.30 345.80" stroke="#7a4848" stroke-width="3.3" fill="none" stroke-linejoin="round" stroke-linecap="round"/>
<path d="M392.30 498.61C392.99 499.96 393.67 500.90 394.36 502.66C395.71 506.13 397.06 519.36 398.42 519.36C400.40 519.36 402.39 450.85 404.38 450.85C406.20 450.85 408.01 492.54 409.83 492.54C412.16 492.54 414.49 449.02 416.82 449.02C418.63 449.02 420.45 494.56 422.27 494.56C424.25 494.56 426.24 449.02 428.23 449.02C430.37 449.02 432.51 483.63 434.65 483.63C437.14 483.63 439.62 454.39 442.11 454.39C443.72 454.39 445.33 484.85 446.94 484.85C449.25 484.85 451.56 454.69 453.88 454.69C456.19 454.69 458.50 483.13 460.82 483.13C462.56 483.13 464.31 459.95 466.06 459.95C468.56 459.95 471.06 477.36 473.56 477.36C475.88 477.36 478.19 447.20 480.50 447.20C482.25 447.20 484.00 467.44 485.75 467.44C488.61 467.44 491.47 432.33 494.33 432.33C495.34 432.33 496.35 437.61 497.36 439.41C499.25 442.76 501.13 447.20 503.02 447.20C504.35 447.20 505.69 432.68 507.02 426.36C508.64 418.74 510.25 409.39 511.86 405.51C514.00 400.35 516.14 395.08 518.28 395.08C519.62 395.08 520.95 397.65 522.29 399.03C523.78 400.57 525.27 403.89 526.76 403.89C528.48 403.89 530.19 392.72 531.90 386.18C533.77 379.05 535.64 368.85 537.50 362.09C539.12 356.27 540.73 348.52 542.34 346.91C543.67 345.58 545.01 344.48 546.35 344.48C548.49 344.48 550.63 347.90 552.77 349.24C554.36 350.24 555.96 351.87 557.55 351.87C561.92 351.87 566.29 344.59 570.66 344.59C574.08 344.59 577.51 348.23 580.94 348.23C584.02 348.23 587.11 346.03 590.19 346.00C609.89 345.83 629.60 345.87 649.30 345.80" stroke="#8c9410" stroke-width="3.3" fill="none" stroke-linejoin="round" stroke-linecap="round"/>
<path d="M392.30 498.61C393.52 500.57 394.73 501.45 395.95 504.48C396.77 506.53 397.59 516.32 398.42 516.32C400.40 516.32 402.39 453.88 404.38 453.88C406.20 453.88 408.01 490.62 409.83 490.62C412.16 490.62 414.49 445.89 416.82 445.89C418.46 445.89 420.11 479.69 421.75 479.69C423.91 479.69 426.07 445.89 428.23 445.89C430.37 445.89 432.51 469.77 434.65 469.77C436.97 469.77 439.28 436.98 441.59 436.98C442.30 436.98 443.00 437.34 443.70 437.89C444.49 438.51 445.28 447.39 446.06 448.92C447.59 451.89 449.11 454.08 450.64 454.08C452.03 454.08 453.41 437.96 454.80 431.21C456.41 423.38 458.02 412.91 459.63 410.26C461.50 407.20 463.37 404.70 465.24 404.70C467.38 404.70 469.52 408.65 471.66 408.65C473.02 408.65 474.37 399.88 475.72 394.27C477.32 387.68 478.91 377.91 480.50 370.19C482.11 362.38 483.72 350.10 485.33 347.62C487.20 344.75 489.07 342.56 490.94 342.56C492.82 342.56 494.71 346.22 496.59 347.62C498.73 349.21 500.87 351.67 503.02 351.67C505.16 351.67 507.30 348.73 509.44 347.62C511.58 346.51 513.72 344.79 515.87 344.79C519.60 344.79 523.34 346.81 527.07 346.81C531.35 346.81 535.64 345.29 539.92 345.29C545.54 345.29 551.16 345.80 556.78 345.80C587.62 345.80 618.46 345.80 649.30 345.80" stroke="#f4680a" stroke-width="3.3" fill="none" stroke-linejoin="round" stroke-linecap="round"/>
<rect x="392.30" y="320.50" width="68.80" height="59.80" fill="#fff" stroke="#bbb" stroke-width="1"/>
<path d="M395.10 328.60H420.10" stroke="#14c2c6" stroke-width="3.3" stroke-linecap="round"/>
<text x="424.20" y="332.70" class="lg">50 Nm</text>
<path d="M395.10 343.10H420.10" stroke="#7a4848" stroke-width="3.3" stroke-linecap="round"/>
<text x="424.20" y="347.20" class="lg">45 Nm</text>
<path d="M395.10 357.70H420.10" stroke="#8c9410" stroke-width="3.3" stroke-linecap="round"/>
<text x="424.20" y="361.80" class="lg">40 Nm</text>
<path d="M395.10 372.30H420.10" stroke="#f4680a" stroke-width="3.3" stroke-linecap="round"/>
<text x="424.20" y="376.40" class="lg">35 Nm</text>
<path d="M392.30 320.50H675.00" stroke="#bbb" stroke-width="1.8"/>
<path d="M675.00 320.50V548.20" stroke="#999" stroke-width="1.8"/>
<path d="M392.30 548.20v4.6M400.87 548.20v2.6M409.43 548.20v2.6M418.00 548.20v2.6M426.57 548.20v2.6M435.13 548.20v2.6M443.70 548.20v4.6M452.27 548.20v2.6M460.83 548.20v2.6M469.40 548.20v2.6M477.97 548.20v2.6M486.53 548.20v2.6M495.10 548.20v4.6M503.67 548.20v2.6M512.23 548.20v2.6M520.80 548.20v2.6M529.37 548.20v2.6M537.93 548.20v2.6M546.50 548.20v4.6M555.07 548.20v2.6M563.63 548.20v2.6M572.20 548.20v2.6M580.77 548.20v2.6M589.33 548.20v2.6M597.90 548.20v4.6M606.47 548.20v2.6M615.03 548.20v2.6M623.60 548.20v2.6M632.17 548.20v2.6M640.73 548.20v2.6M649.30 548.20v4.6M657.87 548.20v2.6M666.43 548.20v2.6M675.00 548.20v2.6" stroke="#555" stroke-width="1.1"/>
<path d="M392.30 548.20h-4.6M392.30 539.77h-2.6M392.30 531.33h-2.6M392.30 522.90h-2.6M392.30 514.47h-2.6M392.30 506.03h-2.6M392.30 497.60h-4.6M392.30 489.17h-2.6M392.30 480.73h-2.6M392.30 472.30h-2.6M392.30 463.87h-2.6M392.30 455.43h-2.6M392.30 447.00h-4.6M392.30 438.57h-2.6M392.30 430.13h-2.6M392.30 421.70h-2.6M392.30 413.27h-2.6M392.30 404.83h-2.6M392.30 396.40h-4.6M392.30 387.97h-2.6M392.30 379.53h-2.6M392.30 371.10h-2.6M392.30 362.67h-2.6M392.30 354.23h-2.6M392.30 345.80h-4.6M392.30 337.37h-2.6M392.30 328.93h-2.6M392.30 320.50h-2.6" stroke="#555" stroke-width="1.1"/>
<path d="M391.80 548.20H675.00" stroke="#555" stroke-width="1.8"/>
<path d="M392.30 320.00V548.70" stroke="#555" stroke-width="1.8"/>
<text x="392.30" y="565.70" text-anchor="middle" class="tk">0</text>
<text x="443.70" y="565.70" text-anchor="middle" class="tk">100</text>
<text x="495.10" y="565.70" text-anchor="middle" class="tk">200</text>
<text x="546.50" y="565.70" text-anchor="middle" class="tk">300</text>
<text x="597.90" y="565.70" text-anchor="middle" class="tk">400</text>
<text x="649.30" y="565.70" text-anchor="middle" class="tk">500</text>
<text x="384.50" y="551.60" text-anchor="end" class="tk">-500</text>
<text x="384.50" y="501.00" text-anchor="end" class="tk">0</text>
<text x="384.50" y="450.40" text-anchor="end" class="tk">500</text>
<text x="384.50" y="399.80" text-anchor="end" class="tk">1000</text>
<text x="384.50" y="349.20" text-anchor="end" class="tk">1500</text>
<text x="533.65" y="586.20" text-anchor="middle" class="at">Time [ms]</text>
<text transform="translate(350.10 428.55) rotate(-90)" text-anchor="middle" class="at">Shaft Speed [Rpm]</text>
<text x="499.40" y="606.70" text-anchor="middle" class="cap">(d)</text>
</g>
<g id="pe">
<path d="M65.99 615.80V841.30M74.49 615.80V841.30M82.98 615.80V841.30M91.48 615.80V841.30M99.97 615.80V841.30M116.96 615.80V841.30M125.45 615.80V841.30M133.95 615.80V841.30M142.44 615.80V841.30M150.93 615.80V841.30M167.92 615.80V841.30M176.42 615.80V841.30M184.91 615.80V841.30M193.40 615.80V841.30M201.90 615.80V841.30M218.88 615.80V841.30M227.38 615.80V841.30M235.87 615.80V841.30M244.37 615.80V841.30M252.86 615.80V841.30M269.85 615.80V841.30M278.34 615.80V841.30M286.84 615.80V841.30M295.33 615.80V841.30M303.82 615.80V841.30M320.81 615.80V841.30M329.31 615.80V841.30" stroke="#e3e3e3" stroke-width="0.9" stroke-dasharray="2 1" fill="none"/>
<path d="M57.50 832.95H337.80M57.50 824.60H337.80M57.50 816.24H337.80M57.50 807.89H337.80M57.50 799.54H337.80M57.50 782.84H337.80M57.50 774.49H337.80M57.50 766.13H337.80M57.50 757.78H337.80M57.50 749.43H337.80M57.50 732.73H337.80M57.50 724.37H337.80M57.50 716.02H337.80M57.50 707.67H337.80M57.50 699.32H337.80M57.50 682.61H337.80M57.50 674.26H337.80M57.50 665.91H337.80M57.50 657.56H337.80M57.50 649.21H337.80M57.50 632.50H337.80M57.50 624.15H337.80" stroke="#dadada" stroke-width="0.8" stroke-dasharray="2.6 1" fill="none"/>
<path d="M108.46 615.80V841.30M159.43 615.80V841.30M210.39 615.80V841.30M261.35 615.80V841.30M312.32 615.80V841.30M57.50 791.19H337.80M57.50 741.08H337.80M57.50 690.97H337.80M57.50 640.86H337.80" stroke="#c8c8c8" stroke-width="1.1" fill="none"/>
<path d="M57.50 792.19C58.18 793.86 58.86 794.99 59.54 797.20C60.83 801.41 62.12 818.35 63.41 818.35C65.40 818.35 67.39 764.73 69.37 764.73C71.02 764.73 72.67 783.17 74.32 783.17C76.15 783.17 77.99 743.88 79.82 743.88C81.81 743.88 83.80 789.59 85.78 789.59C88.27 789.59 90.75 756.81 93.23 756.81C95.08 756.81 96.93 783.17 98.78 783.17C100.31 783.17 101.84 761.12 103.37 761.12C104.95 761.12 106.53 806.22 108.11 806.22C109.67 806.22 111.23 752.00 112.80 752.00C114.97 752.00 117.14 792.79 119.32 792.79C121.53 792.79 123.74 752.00 125.94 752.00C127.59 752.00 129.24 787.28 130.89 787.28C133.10 787.28 135.30 746.49 137.51 746.49C139.35 746.49 141.18 789.49 143.02 789.49C145.23 789.49 147.43 752.00 149.64 752.00C152.04 752.00 154.43 767.44 156.83 767.44C158.88 767.44 160.94 741.08 162.99 741.08C165.12 741.08 167.24 775.96 169.37 775.96C170.81 775.96 172.25 764.73 173.70 764.73C176.18 764.73 178.66 806.92 181.14 806.92C182.79 806.92 184.43 773.45 186.08 773.45C187.75 773.45 189.41 813.14 191.08 813.14C192.40 813.14 193.73 781.57 195.05 781.57C195.75 781.57 196.44 783.45 197.14 785.18C198.41 788.33 199.69 805.12 200.96 805.12C203.12 805.12 205.28 749.30 207.44 749.30C209.22 749.30 211.00 797.70 212.79 797.70C214.43 797.70 216.08 767.24 217.73 767.24C219.60 767.24 221.47 802.61 223.34 802.61C225.19 802.61 227.04 747.99 228.89 747.99C230.56 747.99 232.22 802.61 233.89 802.61C235.82 802.61 237.76 762.93 239.70 762.93C241.68 762.93 243.67 803.92 245.66 803.92C247.51 803.92 249.36 751.80 251.21 751.80C252.86 751.80 254.51 794.60 256.16 794.60C257.94 794.60 259.72 767.84 261.51 767.84C263.36 767.84 265.21 806.92 267.06 806.92C269.22 806.92 271.38 750.50 273.53 750.50C275.18 750.50 276.83 795.20 278.48 795.20C280.23 795.20 281.98 768.54 283.73 768.54C285.58 768.54 287.43 806.32 289.28 806.32C291.36 806.32 293.43 748.59 295.50 748.59C297.15 748.59 298.80 798.30 300.44 798.30C302.23 798.30 304.01 766.63 305.79 766.63C307.66 766.63 309.53 803.22 311.40 803.22C311.81 803.22 312.22 799.54 312.62 797.70" stroke="#14c2c6" stroke-width="3.3" fill="none" stroke-linejoin="round" stroke-linecap="round"/>
<path d="M57.50 792.19C58.18 793.86 58.86 795.08 59.54 797.20C60.83 801.23 62.12 815.34 63.41 815.34C65.40 815.34 67.39 751.10 69.37 751.10C71.19 751.10 73.01 796.00 74.83 796.00C76.32 796.00 77.82 772.65 79.31 772.65C81.13 772.65 82.95 808.93 84.77 808.93C86.41 808.93 88.06 771.65 89.71 771.65C91.54 771.65 93.38 808.43 95.21 808.43C97.03 808.43 98.85 743.88 100.67 743.88C102.82 743.88 104.98 789.49 107.14 789.49C108.63 789.49 110.13 745.39 111.62 745.39C114.00 745.39 116.38 780.67 118.76 780.67C120.61 780.67 122.46 742.08 124.31 742.08C126.69 742.08 129.07 781.77 131.45 781.77C133.28 781.77 135.12 752.00 136.95 752.00C138.97 752.00 141.00 774.05 143.02 774.05C145.23 774.05 147.43 740.38 149.64 740.38C152.39 740.38 155.15 772.95 157.90 772.95C160.11 772.95 162.32 758.62 164.52 758.62C166.22 758.62 167.92 772.15 169.62 772.15C172.00 772.15 174.38 740.08 176.75 740.08C178.62 740.08 180.49 763.53 182.36 763.53C184.23 763.53 186.10 747.27 187.97 741.18C188.92 738.08 189.87 733.06 190.82 733.06C192.15 733.06 193.47 741.81 194.80 744.89C196.05 747.81 197.31 752.10 198.57 752.10C201.52 752.10 204.48 717.93 207.44 717.93C210.12 717.93 212.80 730.86 215.49 730.86C217.08 730.86 218.68 717.10 220.28 709.91C221.89 702.65 223.51 693.35 225.12 687.46C226.72 681.63 228.31 675.56 229.91 673.03C231.95 669.79 233.99 666.61 236.03 666.61C238.29 666.61 240.54 673.50 242.80 677.84C244.83 681.72 246.85 691.57 248.87 691.57C250.77 691.57 252.67 681.72 254.58 675.43C256.53 668.98 258.48 656.97 260.44 652.08C262.14 647.83 263.83 642.66 265.53 642.66C267.25 642.66 268.97 644.06 270.68 644.86C273.01 645.95 275.34 648.47 277.66 648.47C280.19 648.47 282.73 645.07 285.26 644.06C287.69 643.10 290.12 641.86 292.54 641.86C295.96 641.86 299.37 643.06 302.79 643.06C305.96 643.06 309.14 642.06 312.32 641.56" stroke="#7a4848" stroke-width="3.3" fill="none" stroke-linejoin="round" stroke-linecap="round"/>
<path d="M57.50 792.19C58.18 793.86 58.86 795.18 59.54 797.20C60.83 801.04 62.12 812.74 63.41 812.74C65.40 812.74 67.39 744.39 69.37 744.39C71.19 744.39 73.01 787.18 74.83 787.18C76.87 787.18 78.90 741.08 80.94 741.08C82.88 741.08 84.82 788.58 86.75 788.58C88.57 788.58 90.39 741.88 92.21 741.88C94.23 741.88 96.25 779.16 98.27 779.16C100.72 779.16 103.16 752.80 105.61 752.80C107.78 752.80 109.96 778.16 112.13 778.16C114.17 778.16 116.21 748.69 118.25 748.69C120.63 748.69 123.01 776.26 125.38 776.26C127.22 776.26 129.05 757.51 130.89 757.51C132.74 757.51 134.59 769.64 136.44 769.64C139.76 769.64 143.07 736.07 146.38 736.07C147.74 736.07 149.10 750.10 150.46 750.10C152.33 750.10 154.20 730.64 156.06 725.94C158.20 720.57 160.34 714.72 162.49 714.72C164.90 714.72 167.31 721.94 169.72 721.94C171.32 721.94 172.92 713.22 174.51 706.70C175.85 701.22 177.20 691.32 178.54 684.25C180.15 675.76 181.77 667.39 183.38 660.20C184.98 653.09 186.57 644.87 188.17 640.86C189.78 636.80 191.40 633.18 193.01 632.04C194.61 630.91 196.21 629.93 197.80 629.93C199.94 629.93 202.08 632.89 204.22 634.44C206.36 635.99 208.51 638.29 210.65 639.25C212.26 639.98 213.87 640.86 215.49 640.86C218.70 640.86 221.91 638.45 225.12 638.45C228.86 638.45 232.59 640.41 236.33 640.55C241.27 640.74 246.22 640.86 251.16 640.86C271.55 640.86 291.93 640.86 312.32 640.86" stroke="#8c9410" stroke-width="3.3" fill="none" stroke-linejoin="round" stroke-linecap="round"/>
<path d="M57.50 792.19C57.65 791.96 57.81 791.49 57.96 791.49C59.13 791.49 60.30 794.88 61.48 798.51C62.12 800.50 62.77 809.43 63.41 809.43C65.40 809.43 67.39 746.89 69.37 746.89C71.19 746.89 73.01 785.58 74.83 785.58C77.15 785.58 79.48 739.47 81.81 739.47C83.46 739.47 85.11 774.65 86.75 774.65C88.91 774.65 91.07 743.88 93.23 743.88C95.20 743.88 97.17 786.58 99.14 786.58C100.95 786.58 102.77 743.88 104.59 743.88C105.92 743.88 107.24 746.63 108.57 749.90C109.77 752.87 110.98 772.95 112.18 772.95C114.56 772.95 116.94 743.68 119.32 743.68C121.15 743.68 122.99 770.74 124.82 770.74C127.03 770.74 129.24 739.27 131.45 739.27C133.66 739.27 135.87 758.62 138.07 758.62C139.84 758.62 141.61 739.71 143.37 732.06C144.66 726.47 145.96 717.12 147.25 717.12C149.12 717.12 150.98 719.84 152.85 721.13C154.45 722.24 156.05 724.34 157.64 724.34C158.71 724.34 159.78 711.50 160.85 705.10C162.47 695.45 164.08 685.00 165.70 676.23C167.31 667.47 168.92 658.73 170.54 652.08C172.13 645.50 173.73 638.04 175.33 635.24C177.20 631.97 179.07 628.83 180.93 628.83C182.82 628.83 184.71 631.77 186.59 633.64C188.19 635.22 189.78 638.14 191.38 639.25C193.00 640.38 194.61 641.66 196.22 641.66C198.89 641.66 201.56 638.95 204.22 638.95C207.44 638.95 210.65 639.74 213.86 640.05C217.07 640.36 220.28 640.86 223.49 640.86C253.10 640.86 282.71 640.86 312.32 640.86" stroke="#f4680a" stroke-width="3.3" fill="none" stroke-linejoin="round" stroke-linecap="round"/>
<rect x="57.50" y="615.80" width="67.30" height="59.00" fill="#fff" stroke="#bbb" stroke-width="1"/>
<path d="M59.90 623.80H84.50" stroke="#14c2c6" stroke-width="3.3" stroke-linecap="round"/>
<text x="88.90" y="627.90" class="lg">50 Nm</text>
<path d="M59.90 638.00H84.50" stroke="#7a4848" stroke-width="3.3" stroke-linecap="round"/>
<text x="88.90" y="642.10" class="lg">45 Nm</text>
<path d="M59.90 652.40H84.50" stroke="#8c9410" stroke-width="3.3" stroke-linecap="round"/>
<text x="88.90" y="656.50" class="lg">40 Nm</text>
<path d="M59.90 666.90H84.50" stroke="#f4680a" stroke-width="3.3" stroke-linecap="round"/>
<text x="88.90" y="671.00" class="lg">35 Nm</text>
<path d="M57.50 615.80H337.80" stroke="#ccc" stroke-width="1.8"/>
<path d="M337.80 615.80V841.30" stroke="#aaa" stroke-width="1.8"/>
<path d="M57.50 841.30v4.6M65.99 841.30v2.6M74.49 841.30v2.6M82.98 841.30v2.6M91.48 841.30v2.6M99.97 841.30v2.6M108.46 841.30v4.6M116.96 841.30v2.6M125.45 841.30v2.6M133.95 841.30v2.6M142.44 841.30v2.6M150.93 841.30v2.6M159.43 841.30v4.6M167.92 841.30v2.6M176.42 841.30v2.6M184.91 841.30v2.6M193.40 841.30v2.6M201.90 841.30v2.6M210.39 841.30v4.6M218.88 841.30v2.6M227.38 841.30v2.6M235.87 841.30v2.6M244.37 841.30v2.6M252.86 841.30v2.6M261.35 841.30v4.6M269.85 841.30v2.6M278.34 841.30v2.6M286.84 841.30v2.6M295.33 841.30v2.6M303.82 841.30v2.6M312.32 841.30v4.6M320.81 841.30v2.6M329.31 841.30v2.6M337.80 841.30v2.6" stroke="#444" stroke-width="1.1"/>
<path d="M57.50 841.30h-4.6M57.50 832.95h-2.6M57.50 824.60h-2.6M57.50 816.24h-2.6M57.50 807.89h-2.6M57.50 799.54h-2.6M57.50 791.19h-4.6M57.50 782.84h-2.6M57.50 774.49h-2.6M57.50 766.13h-2.6M57.50 757.78h-2.6M57.50 749.43h-2.6M57.50 741.08h-4.6M57.50 732.73h-2.6M57.50 724.37h-2.6M57.50 716.02h-2.6M57.50 707.67h-2.6M57.50 699.32h-2.6M57.50 690.97h-4.6M57.50 682.61h-2.6M57.50 674.26h-2.6M57.50 665.91h-2.6M57.50 657.56h-2.6M57.50 649.21h-2.6M57.50 640.86h-4.6M57.50 632.50h-2.6M57.50 624.15h-2.6M57.50 615.80h-2.6" stroke="#333" stroke-width="1.1"/>
<path d="M57.00 841.30H337.80" stroke="#444" stroke-width="1.8"/>
<path d="M57.50 615.30V841.80" stroke="#333" stroke-width="1.8"/>
<text x="57.50" y="858.80" text-anchor="middle" class="tk">0</text>
<text x="108.46" y="858.80" text-anchor="middle" class="tk">100</text>
<text x="159.43" y="858.80" text-anchor="middle" class="tk">200</text>
<text x="210.39" y="858.80" text-anchor="middle" class="tk">300</text>
<text x="261.35" y="858.80" text-anchor="middle" class="tk">400</text>
<text x="312.32" y="858.80" text-anchor="middle" class="tk">500</text>
<text x="49.40" y="844.70" text-anchor="end" class="tk">-500</text>
<text x="49.40" y="794.59" text-anchor="end" class="tk">0</text>
<text x="49.40" y="744.48" text-anchor="end" class="tk">500</text>
<text x="49.40" y="694.37" text-anchor="end" class="tk">1000</text>
<text x="49.40" y="644.26" text-anchor="end" class="tk">1500</text>
<text x="197.65" y="879.30" text-anchor="middle" class="at">Time [ms]</text>
<text transform="translate(14.70 722.75) rotate(-90)" text-anchor="middle" class="at">Shaft Speed [Rpm]</text>
<text x="176.50" y="899.80" text-anchor="middle" class="cap">(e)</text>
</g>
<g id="pf">
<path d="M404.19 612.70V841.20M412.78 612.70V841.20M421.37 612.70V841.20M429.96 612.70V841.20M438.55 612.70V841.20M455.74 612.70V841.20M464.33 612.70V841.20M472.92 612.70V841.20M481.51 612.70V841.20M490.10 612.70V841.20M507.28 612.70V841.20M515.87 612.70V841.20M524.46 612.70V841.20M533.05 612.70V841.20M541.65 612.70V841.20M558.83 612.70V841.20M567.42 612.70V841.20M576.01 612.70V841.20M584.60 612.70V841.20M593.19 612.70V841.20M610.37 612.70V841.20M618.96 612.70V841.20M627.55 612.70V841.20M636.15 612.70V841.20M644.74 612.70V841.20M661.92 612.70V841.20M670.51 612.70V841.20" stroke="#e3e3e3" stroke-width="0.9" stroke-dasharray="2 1" fill="none"/>
<path d="M395.60 832.74H679.10M395.60 824.27H679.10M395.60 815.81H679.10M395.60 807.35H679.10M395.60 798.89H679.10M395.60 781.96H679.10M395.60 773.50H679.10M395.60 765.03H679.10M395.60 756.57H679.10M395.60 748.11H679.10M395.60 731.18H679.10M395.60 722.72H679.10M395.60 714.26H679.10M395.60 705.79H679.10M395.60 697.33H679.10M395.60 680.40H679.10M395.60 671.94H679.10M395.60 663.48H679.10M395.60 655.01H679.10M395.60 646.55H679.10M395.60 629.63H679.10M395.60 621.16H679.10" stroke="#dadada" stroke-width="0.8" stroke-dasharray="2.6 1" fill="none"/>
<path d="M447.15 612.70V841.20M498.69 612.70V841.20M550.24 612.70V841.20M601.78 612.70V841.20M653.33 612.70V841.20M395.60 790.42H679.10M395.60 739.64H679.10M395.60 688.87H679.10M395.60 638.09H679.10" stroke="#c8c8c8" stroke-width="1.1" fill="none"/>
<path d="M395.60 791.44C396.29 793.13 396.97 794.27 397.66 796.52C398.86 800.45 400.07 815.91 401.27 815.91C403.47 815.91 405.67 747.77 407.87 747.77C409.53 747.77 411.20 794.99 412.87 794.99C414.52 794.99 416.17 768.49 417.82 768.49C419.65 768.49 421.49 805.45 423.33 805.45C424.98 805.45 426.63 742.08 428.28 742.08C430.67 742.08 433.06 779.56 435.44 779.56C438.02 779.56 440.60 747.57 443.18 747.57C444.64 747.57 446.10 793.37 447.56 793.37C449.04 793.37 450.51 771.84 451.99 771.84C454.02 771.84 456.05 806.26 458.07 806.26C460.36 806.26 462.64 751.12 464.93 751.12C466.58 751.12 468.23 788.39 469.88 788.39C471.54 788.39 473.21 764.12 474.88 764.12C476.73 764.12 478.59 798.95 480.44 798.95C482.42 798.95 484.40 765.44 486.37 765.44C488.24 765.44 490.12 806.98 491.99 806.98C493.93 806.98 495.87 753.66 497.81 753.66C499.46 753.66 501.11 787.17 502.76 787.17C505.05 787.17 507.33 741.88 509.62 741.88C511.59 741.88 513.57 792.05 515.55 792.05C517.49 792.05 519.43 745.53 521.37 745.53C523.24 745.53 525.12 788.39 526.99 788.39C529.00 788.39 531.01 739.64 533.02 739.64C533.98 739.64 534.94 744.66 535.91 748.28C537.45 754.09 539.00 773.16 540.55 773.16C541.78 773.16 543.02 752.66 544.26 750.51C545.49 748.36 546.73 746.75 547.97 746.75C549.84 746.75 551.71 780.88 553.59 780.88C555.24 780.88 556.89 747.46 558.54 747.46C559.77 747.46 561.01 753.94 562.25 757.32C563.50 760.74 564.75 767.88 566.01 767.88C567.25 767.88 568.48 752.31 569.72 747.46C570.87 742.95 572.02 736.90 573.17 736.90C574.08 736.90 575.00 746.78 575.91 749.90C577.35 754.84 578.79 761.07 580.24 761.07C582.31 761.07 584.39 737.51 586.47 737.51C587.71 737.51 588.95 743.47 590.18 747.46C591.64 752.17 593.11 765.44 594.57 765.44C595.60 765.44 596.63 760.77 597.66 757.92C598.79 754.79 599.93 746.96 601.06 746.96C603.10 746.96 605.15 782.81 607.19 782.81C608.84 782.81 610.49 746.75 612.14 746.75C613.26 746.75 614.38 756.51 615.49 759.24C616.75 762.32 618.00 766.05 619.26 766.05C620.70 766.05 622.14 748.72 623.59 743.71C624.50 740.54 625.41 736.29 626.32 736.29C627.26 736.29 628.21 740.60 629.15 743.71C630.61 748.51 632.07 764.22 633.53 764.22C635.60 764.22 637.66 737.51 639.72 737.51C640.75 737.51 641.78 742.24 642.81 745.53C644.46 750.81 646.11 767.27 647.76 767.27C648.59 767.27 649.41 762.34 650.23 761.07C651.20 759.60 652.16 758.97 653.12 757.92" stroke="#7a4848" stroke-width="3.3" fill="none" stroke-linejoin="round" stroke-linecap="round"/>
<path d="M395.60 791.44C396.29 793.13 396.97 794.52 397.66 796.52C399.05 800.57 400.45 812.26 401.84 812.26C403.85 812.26 405.86 742.59 407.87 742.59C409.71 742.59 411.54 782.30 413.38 782.30C415.60 782.30 417.82 739.64 420.03 739.64C421.87 739.64 423.71 782.91 425.55 782.91C427.75 782.91 429.95 737.61 432.15 737.61C434.17 737.61 436.20 772.95 438.23 772.95C440.43 772.95 442.63 728.88 444.83 728.88C447.03 728.88 449.22 757.52 451.42 757.52C454.69 757.52 457.95 720.96 461.22 720.96C463.90 720.96 466.58 729.79 469.26 729.79C470.87 729.79 472.49 718.07 474.10 711.41C476.78 700.36 479.46 684.63 482.14 674.45C484.28 666.35 486.41 656.77 488.54 653.53C490.68 650.25 492.83 647.13 494.98 647.13C497.11 647.13 499.24 650.57 501.37 653.53C503.52 656.50 505.67 663.28 507.81 668.05C510.49 674.00 513.18 685.62 515.86 685.62C517.99 685.62 520.12 676.19 522.25 669.57C523.86 664.56 525.48 655.14 527.09 650.38C528.69 645.66 530.29 639.10 531.89 639.10C533.76 639.10 535.63 641.87 537.50 643.07C539.84 644.56 542.18 647.13 544.51 647.13C548.14 647.13 551.77 640.79 555.39 640.32C557.11 640.10 558.83 639.92 560.55 639.92C562.44 639.92 564.33 641.14 566.22 641.14C571.10 641.14 575.97 638.29 580.85 638.29C584.22 638.29 587.59 639.00 590.96 639.00C595.94 639.00 600.92 638.29 605.91 638.29C611.68 638.29 617.45 638.43 623.22 638.50" stroke="#8c9410" stroke-width="3.3" fill="none" stroke-linejoin="round" stroke-linecap="round"/>
<path d="M395.60 791.44C395.65 791.13 395.70 790.52 395.75 790.52C397.04 790.52 398.33 794.42 399.62 798.24C400.36 800.43 401.10 809.31 401.84 809.31C403.85 809.31 405.86 745.33 407.87 745.33C409.71 745.33 411.54 780.06 413.38 780.06C415.60 780.06 417.82 737.61 420.03 737.61C421.87 737.61 423.71 772.95 425.55 772.95C427.75 772.95 429.95 736.50 432.15 736.50C433.25 736.50 434.35 747.17 435.44 751.93C436.54 756.70 437.64 765.24 438.74 765.24C440.77 765.24 442.80 732.13 444.83 732.13C445.70 732.13 446.58 733.81 447.45 735.58C448.78 738.25 450.10 756.40 451.42 756.40C452.56 756.40 453.69 747.23 454.83 741.88C456.42 734.33 458.02 720.13 459.62 716.19C461.49 711.56 463.37 707.35 465.24 707.35C466.58 707.35 467.92 708.65 469.26 708.97C470.87 709.36 472.49 709.79 474.10 709.79C475.44 709.79 476.78 696.92 478.12 690.49C479.46 684.06 480.80 677.91 482.14 671.20C483.47 664.56 484.79 656.40 486.11 650.38C487.45 644.28 488.79 636.28 490.13 634.23C491.22 632.57 492.30 631.08 493.38 631.08C495.25 631.08 497.13 635.01 499.00 636.67C501.41 638.79 503.81 642.35 506.22 642.35C510.49 642.35 514.77 635.85 519.05 635.85C523.33 635.85 527.61 639.92 531.89 639.92C535.63 639.92 539.38 637.48 543.12 637.48C546.35 637.48 549.58 638.14 552.81 638.29C555.84 638.44 558.86 638.50 561.89 638.60" stroke="#f4680a" stroke-width="3.3" fill="none" stroke-linejoin="round" stroke-linecap="round"/>
<rect x="395.60" y="612.70" width="67.70" height="45.40" fill="#fff" stroke="#bbb" stroke-width="1"/>
<path d="M397.80 620.50H423.30" stroke="#7a4848" stroke-width="3.3" stroke-linecap="round"/>
<text x="427.60" y="624.60" class="lg">45 Nm</text>
<path d="M397.80 635.40H423.30" stroke="#8c9410" stroke-width="3.3" stroke-linecap="round"/>
<text x="427.60" y="639.50" class="lg">40 Nm</text>
<path d="M397.80 649.70H423.30" stroke="#f4680a" stroke-width="3.3" stroke-linecap="round"/>
<text x="427.60" y="653.80" class="lg">35 Nm</text>
<path d="M395.60 612.70H679.10" stroke="#ccc" stroke-width="1.8"/>
<path d="M679.10 612.70V841.20" stroke="#aaa" stroke-width="1.8"/>
<path d="M395.60 841.20v4.6M404.19 841.20v2.6M412.78 841.20v2.6M421.37 841.20v2.6M429.96 841.20v2.6M438.55 841.20v2.6M447.15 841.20v4.6M455.74 841.20v2.6M464.33 841.20v2.6M472.92 841.20v2.6M481.51 841.20v2.6M490.10 841.20v2.6M498.69 841.20v4.6M507.28 841.20v2.6M515.87 841.20v2.6M524.46 841.20v2.6M533.05 841.20v2.6M541.65 841.20v2.6M550.24 841.20v4.6M558.83 841.20v2.6M567.42 841.20v2.6M576.01 841.20v2.6M584.60 841.20v2.6M593.19 841.20v2.6M601.78 841.20v4.6M610.37 841.20v2.6M618.96 841.20v2.6M627.55 841.20v2.6M636.15 841.20v2.6M644.74 841.20v2.6M653.33 841.20v4.6M661.92 841.20v2.6M670.51 841.20v2.6M679.10 841.20v2.6" stroke="#444" stroke-width="1.1"/>
<path d="M395.60 841.20h-4.6M395.60 832.74h-2.6M395.60 824.27h-2.6M395.60 815.81h-2.6M395.60 807.35h-2.6M395.60 798.89h-2.6M395.60 790.42h-4.6M395.60 781.96h-2.6M395.60 773.50h-2.6M395.60 765.03h-2.6M395.60 756.57h-2.6M395.60 748.11h-2.6M395.60 739.64h-4.6M395.60 731.18h-2.6M395.60 722.72h-2.6M395.60 714.26h-2.6M395.60 705.79h-2.6M395.60 697.33h-2.6M395.60 688.87h-4.6M395.60 680.40h-2.6M395.60 671.94h-2.6M395.60 663.48h-2.6M395.60 655.01h-2.6M395.60 646.55h-2.6M395.60 638.09h-4.6M395.60 629.63h-2.6M395.60 621.16h-2.6M395.60 612.70h-2.6" stroke="#444" stroke-width="1.1"/>
<path d="M395.10 841.20H679.10" stroke="#444" stroke-width="1.8"/>
<path d="M395.60 612.20V841.70" stroke="#444" stroke-width="1.8"/>
<text x="395.60" y="858.70" text-anchor="middle" class="tk">0</text>
<text x="447.15" y="858.70" text-anchor="middle" class="tk">100</text>
<text x="498.69" y="858.70" text-anchor="middle" class="tk">200</text>
<text x="550.24" y="858.70" text-anchor="middle" class="tk">300</text>
<text x="601.78" y="858.70" text-anchor="middle" class="tk">400</text>
<text x="653.33" y="858.70" text-anchor="middle" class="tk">500</text>
<text x="387.50" y="844.60" text-anchor="end" class="tk">-500</text>
<text x="387.50" y="793.82" text-anchor="end" class="tk">0</text>
<text x="387.50" y="743.04" text-anchor="end" class="tk">500</text>
<text x="387.50" y="692.27" text-anchor="end" class="tk">1000</text>
<text x="387.50" y="641.49" text-anchor="end" class="tk">1500</text>
<text x="537.35" y="879.20" text-anchor="middle" class="at">Time [ms]</text>
<text transform="translate(352.80 721.15) rotate(-90)" text-anchor="middle" class="at">Shaft Speed [Rpm]</text>
<text x="535.70" y="899.80" text-anchor="middle" class="cap">(f)</text>
</g>
</svg>
</body></html>
